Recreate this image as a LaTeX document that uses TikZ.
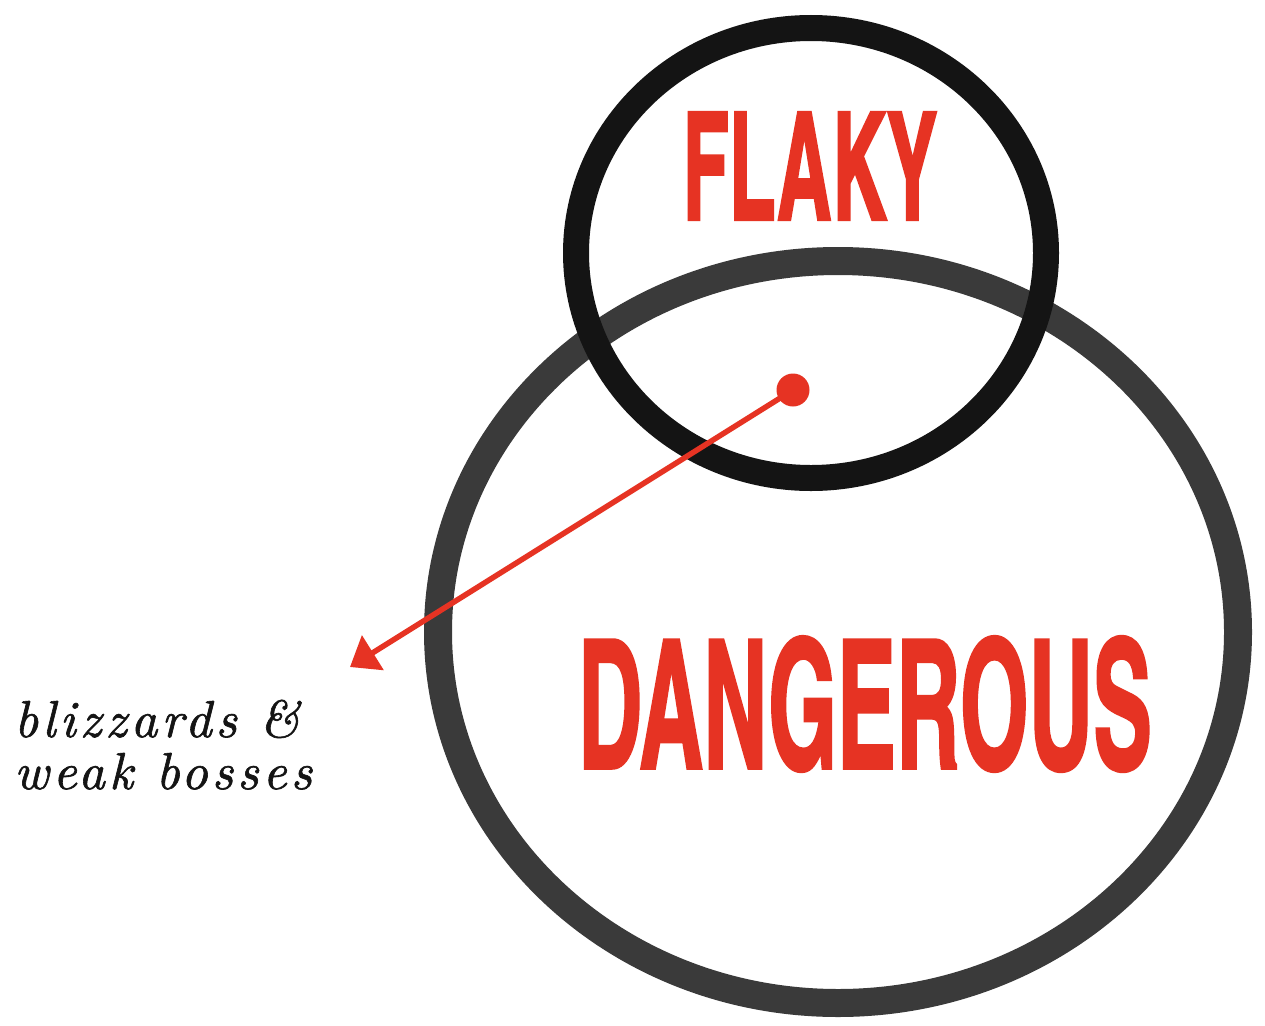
\documentclass[tikz,border=0pt]{standalone}
\usepackage{fontspec}
\usepackage{graphicx}
\usetikzlibrary{arrows.meta}
\definecolor{inkred}{HTML}{E63323}
\definecolor{inkblack}{HTML}{141414}
\definecolor{inkgray}{HTML}{3A3A3A}
\font\bigsansfont="[texgyreheroscn-bold.otf]:embolden=1.6" at 100pt
\font\labelfont="[lmroman10-italic.otf]:letterspace=8;embolden=1.2" at 52pt
\tikzset{
  bigring/.style={draw=inkgray, line width=28pt},
  smallring/.style={draw=inkblack, line width=26pt},
  reddot/.style={circle, fill=inkred, minimum size=33pt, inner sep=0pt},
  redarrow/.style={draw=inkred, line width=5.5pt, -{Triangle[length=27pt,width=40pt]}},
  bigword/.style={inner sep=0pt, text=inkred},
  labeltext/.style={inner sep=0pt, text=inkblack, font=\labelfont}
}
\begin{document}
\begin{tikzpicture}[x=1pt,y=-1pt]
\useasboundingbox[fill=white] (0,0) rectangle (1265,1025);
\draw[bigring] (838,632) ellipse [x radius=400, y radius=371];
\draw[smallring] (811,253) ellipse [x radius=235, y radius=225];
\node[bigword] (flaky) at (810,166) {\resizebox{255pt}{108pt}{\bigsansfont FLAKY}};
\node[bigword] (danger) at (865,704) {\resizebox{574pt}{132pt}{\bigsansfont DANGEROUS}};
\node[reddot] (dot) at (793,390) {};
\coordinate (tip) at (350,667);
\draw[redarrow] (dot.center) -- (tip);
\node[labeltext, anchor=base west] (lab1) at (14,737) {blizzards \&};
\node[labeltext, anchor=base west] (lab2) at (14,789) {weak bosses};
\end{tikzpicture}
\end{document}
